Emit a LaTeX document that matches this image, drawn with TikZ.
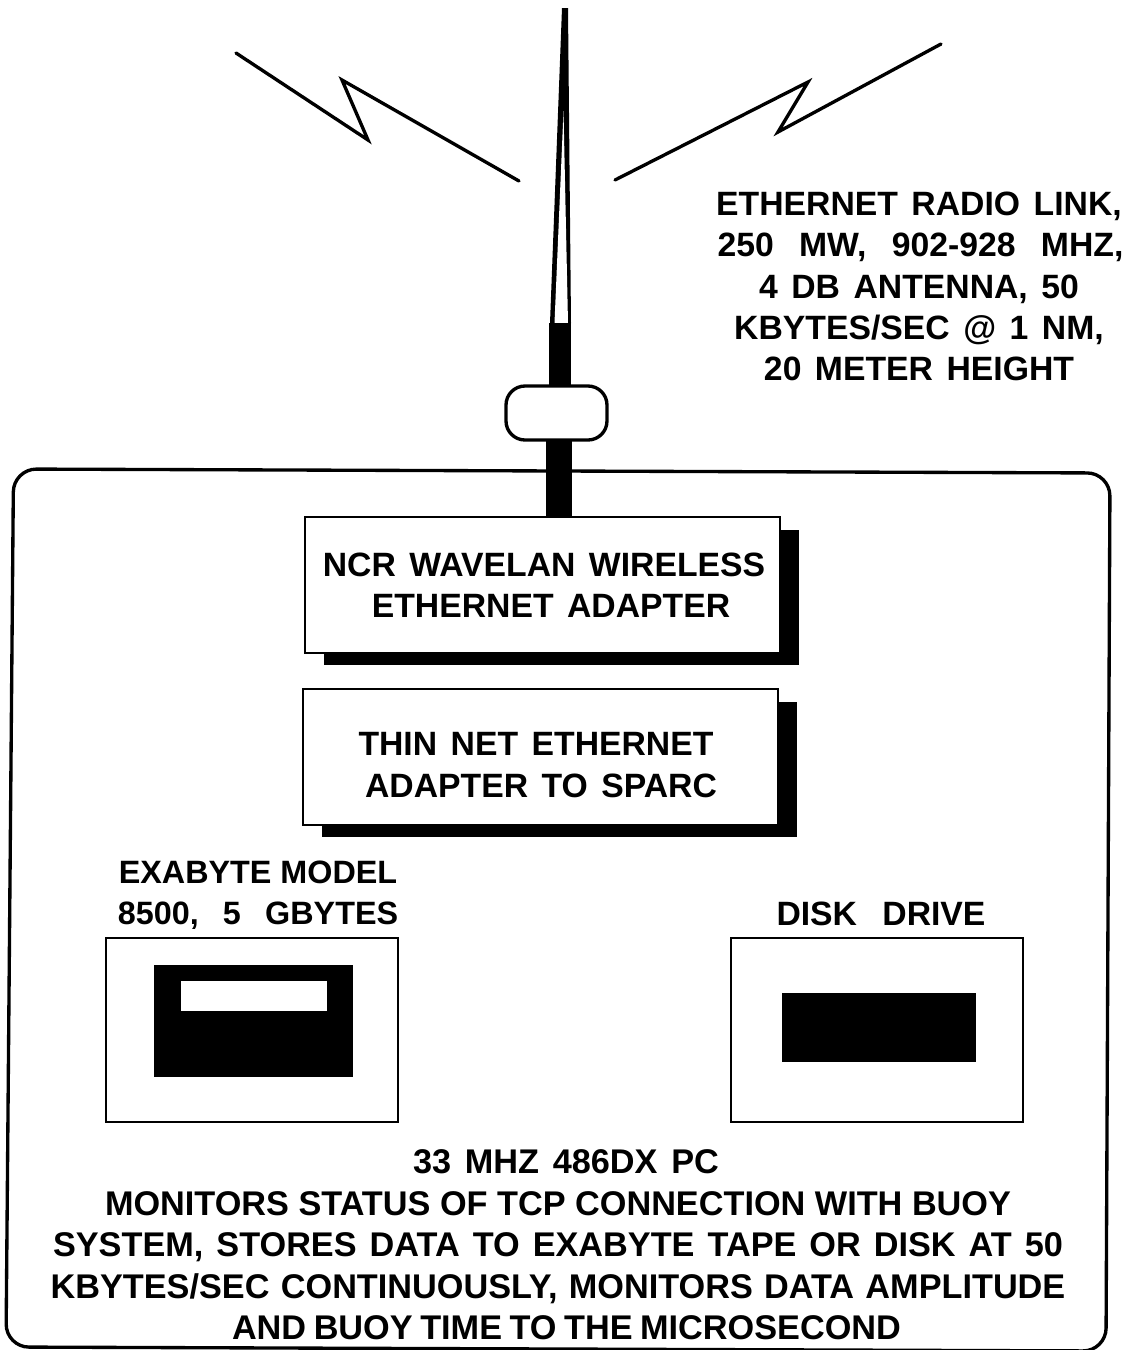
\documentclass[tikz,border=0pt]{standalone}
\usepackage{fontspec}
\setmainfont{Liberation Sans}
\usepackage{tikz}
\usetikzlibrary{shadows}
\newcommand{\gp}{\hspace{0.4em}}
\newcommand{\gpw}{\hspace{0.75em}}
\newcommand{\wordgap}[2]{{\spaceskip=#1em\relax #2}}

\begin{document}
\begin{tikzpicture}[x=0.02cm, y=-0.02cm, line width=1.9pt, line cap=round,
  label/.style={font=\fontsize{19.2}{23.5}\selectfont\bfseries, align=center, inner sep=0pt},
  adapter/.style={draw, line width=1.5pt, fill=white, minimum width=9.5cm, minimum height=2.72cm, inner sep=0pt, drop shadow={shadow xshift=0.38cm, shadow yshift=-0.25cm, fill=black, opacity=1}},
  drive/.style={draw, line width=1.5pt, minimum width=5.84cm, minimum height=3.68cm, inner sep=0pt},
  solid/.style={fill=black, draw=none, inner sep=0pt}]
\useasboundingbox (0,0) rectangle (1127,1350);
\draw[rounded corners=0.46cm] (13.5,469) -- (1110,473) -- (1106,1351) -- (6,1347) -- cycle;
\draw (236,53) -- (368,140) -- (342,80) -- (519,181);
\draw (941,44) -- (778,132) -- (808,82) -- (615,180);
\fill (562,8) -- (568,8) -- (571,323) -- (550,323) -- cycle;
\fill[white] (563.5,111) -- (568,323) -- (554.5,323) -- cycle;
\node (mast) [solid, minimum width=0.44cm, minimum height=1.26cm] at (560,354) {};
\node (feed) [solid, minimum width=0.52cm, minimum height=1.6cm] at (559,480) {};
\node (coupler) [draw, fill=white, rounded corners=0.38cm, minimum width=2.02cm, minimum height=1.08cm] at (556.5,413) {};
\node (radio) [label] at (919,286.5) {ETHERNET\gp RADIO\gp LINK,\\\hspace*{0.06cm}250\gpw MW,\gpw 902-928\gpw MHZ,\\4\gp DB\gp ANTENNA,\gp 50\hspace{0.7cm}\\KBYTES/SEC\gp @\gp 1\gp NM,\\20\gp METER\gp HEIGHT\hspace{0.08cm}};
\node (wavelan) [adapter, label] at (542.5,585) {\hspace{0.06cm}NCR\gp WAVELAN\gp WIRELESS\\\hspace*{0.34cm}ETHERNET\gp ADAPTER};
\node (thinnet) [adapter] at (540.5,757) {};
\node (thinnettxt) [label] at (536,765) {THIN\gp NET\gp ETHERNET\hspace{0.16cm}\\\hspace*{0.2cm}ADAPTER\gp TO\gp SPARC};
\node (exabytetxt) [label, font=\fontsize{18.4}{23.5}\selectfont\bfseries] at (258,895.5) {EXABYTE MODEL\\8500,\gpw 5\gpw GBYTES};
\node (disktxt) [label] at (881,913.5) {DISK\gpw DRIVE};
\node (exabyte) [drive] at (252,1030) {};
\node (tape) [solid, minimum width=3.98cm, minimum height=2.24cm] at (253.5,1021) {};
\node (slot) [fill=white, draw=none, minimum width=2.92cm, minimum height=0.6cm, inner sep=0pt] at (254,996) {};
\node (disk) [drive] at (877,1030) {};
\node (platter) [solid, minimum width=3.88cm, minimum height=1.38cm] at (879,1027.5) {};
\node (pctxt) [label, font=\fontsize{19.5}{23.6}\selectfont\bfseries] at (558,1245) {\hspace*{0.32cm}33\gp MHZ\gp 486DX\gp PC\\MONITORS STATUS OF TCP CONNECTION WITH BUOY\\\wordgap{0.38}{SYSTEM, STORES DATA TO EXABYTE TAPE OR DISK AT 50}\\\wordgap{0.33}{KBYTES/SEC CONTINUOUSLY, MONITORS DATA AMPLITUDE}\\\hspace*{0.34cm}\wordgap{0.22}{AND BUOY TIME TO THE MICROSECOND}};
\end{tikzpicture}
\end{document}
